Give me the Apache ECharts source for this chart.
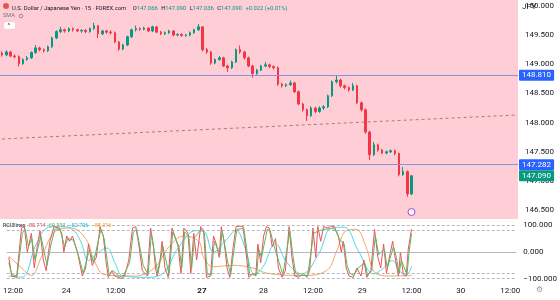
<!DOCTYPE html>
<html>
<head>
<meta charset="utf-8">
<script src="https://cdn.jsdelivr.net/npm/echarts@6/dist/echarts.min.js"></script>
<style>
  html, body { margin: 0; padding: 0; background: #fff; }
  #chart { width: 560px; height: 300px; }
</style>
</head>
<body>
<div id="chart"></div>
<script>
// hourly slots on the time axis, label text where the axis shows one
const slotCount = 124
const timeLabelAt = { 1: '12:00', 14: '24', 26: '12:00', 47: '27', 62: '28', 74: '12:00', 86: '29', 98: '12:00', 110: '30', 122: '12:00' }

// USD/JPY candles (one per hour)
const opens = [
  149.19, 149.16, 149.21, 149.14, 149.13, 149.01, 149.08, 149.11, 149.20, 149.28,
  149.25, 149.23, 149.30, 149.45, 149.56, 149.59, 149.57, 149.61, 149.59, 149.57,
  149.58, 149.56, 149.61, 149.66, 149.52, 149.57, 149.55, 149.54, 149.38, 149.26,
  149.33, 149.47, 149.59, 149.61, 149.60, 149.62, 149.57, 149.64, 149.55, 149.52,
  149.54, 149.57, 149.50, 149.51, 149.49, 149.50, 149.54, 149.59, 149.64, 149.25,
  149.21, 149.02, 149.08, 149.11, 148.97, 148.94, 149.04, 149.25, 149.21, 149.11,
  148.97, 148.84, 148.90, 148.97, 148.99, 148.96, 148.94, 148.66, 148.63, 148.65,
  148.68, 148.53, 148.32, 148.22, 148.12, 148.25, 148.19, 148.25, 148.27, 148.46,
  148.70, 148.73, 148.63, 148.60, 148.56, 148.63, 148.34, 148.22, 147.84, 147.45,
  147.62, 147.53, 147.48, 147.50, 147.52, 147.47, 147.11, 147.16, 146.78
]
const closes = [
  149.16, 149.21, 149.14, 149.13, 149.01, 149.08, 149.11, 149.20, 149.28, 149.25,
  149.23, 149.30, 149.45, 149.56, 149.59, 149.57, 149.61, 149.59, 149.57, 149.58,
  149.56, 149.61, 149.66, 149.52, 149.57, 149.55, 149.54, 149.38, 149.26, 149.33,
  149.47, 149.59, 149.61, 149.60, 149.62, 149.57, 149.64, 149.55, 149.52, 149.54,
  149.57, 149.50, 149.51, 149.49, 149.50, 149.54, 149.59, 149.64, 149.25, 149.21,
  149.02, 149.08, 149.11, 148.97, 148.94, 149.04, 149.25, 149.21, 149.11, 148.97,
  148.84, 148.90, 148.97, 148.99, 148.96, 148.94, 148.66, 148.63, 148.65, 148.68,
  148.53, 148.32, 148.22, 148.12, 148.25, 148.19, 148.25, 148.27, 148.46, 148.70,
  148.73, 148.63, 148.60, 148.56, 148.63, 148.34, 148.22, 147.84, 147.45, 147.62,
  147.53, 147.48, 147.50, 147.52, 147.47, 147.11, 147.16, 146.78, 147.09
]
const lows = [
  149.13, 149.14, 149.12, 149.10, 148.96, 148.99, 149.06, 149.09, 149.18, 149.22,
  149.20, 149.21, 149.28, 149.43, 149.53, 149.54, 149.55, 149.56, 149.55, 149.54,
  149.53, 149.54, 149.59, 149.45, 149.50, 149.52, 149.51, 149.36, 149.23, 149.24,
  149.31, 149.45, 149.56, 149.57, 149.58, 149.55, 149.55, 149.53, 149.50, 149.50,
  149.52, 149.48, 149.48, 149.47, 149.47, 149.48, 149.52, 149.57, 149.22, 149.18,
  148.99, 149.00, 149.06, 148.95, 148.87, 148.92, 149.02, 149.18, 149.08, 148.95,
  148.77, 148.82, 148.88, 148.95, 148.93, 148.91, 148.63, 148.60, 148.61, 148.63,
  148.51, 148.30, 148.19, 148.03, 148.10, 148.16, 148.17, 148.22, 148.25, 148.44,
  148.67, 148.60, 148.57, 148.53, 148.54, 148.32, 148.19, 147.81, 147.36, 147.43,
  147.50, 147.46, 147.46, 147.48, 147.44, 147.08, 147.09, 146.73, 146.76
]
const highs = [
  149.22, 149.24, 149.23, 149.17, 149.15, 149.10, 149.14, 149.22, 149.33, 149.30,
  149.27, 149.32, 149.47, 149.58, 149.64, 149.61, 149.63, 149.63, 149.61, 149.60,
  149.60, 149.63, 149.71, 149.67, 149.59, 149.59, 149.58, 149.56, 149.40, 149.35,
  149.49, 149.61, 149.66, 149.63, 149.64, 149.63, 149.66, 149.65, 149.57, 149.56,
  149.59, 149.58, 149.53, 149.53, 149.52, 149.56, 149.61, 149.69, 149.65, 149.28,
  149.23, 149.10, 149.14, 149.13, 148.99, 149.06, 149.27, 149.32, 149.23, 149.13,
  148.99, 148.92, 148.99, 149.04, 149.01, 148.98, 148.96, 148.68, 148.67, 148.72,
  148.70, 148.55, 148.34, 148.24, 148.28, 148.27, 148.28, 148.30, 148.48, 148.72,
  148.80, 148.75, 148.65, 148.62, 148.68, 148.65, 148.36, 148.24, 147.86, 147.67,
  147.64, 147.55, 147.52, 147.54, 147.54, 147.49, 147.24, 147.18, 147.10
]

// horizontal levels, last price, dashed trend line [slot, price], event marker
const levelLines = [148.81, 147.282]
const lastPrice = 147.09
const trendLine = [[0, 147.72], [123, 148.13]]
const eventMarker = [98, 146.47]

// RCI3lines, [hour slot, value]
const rciRed = [
  [0, -20], [0.7, -90], [1.9, -95], [3.1, 90], [3.8, 95], [4.5, 0], [5.5, 70], [6.2, -60], [6.9, 20], [7.6, 80],
  [8.4, -30], [9.1, -70], [10, 40], [11, 95], [12.2, 90], [12.9, 70], [13.4, 0], [14.1, 60], [14.8, 40], [15.5, 60],
  [16.7, 0], [17.9, -90], [18.7, -60], [19.4, 30], [20.3, -50], [21.3, -20], [22.2, 95], [23, 60], [23.7, -40], [24.2, -95],
  [25.1, -70], [25.8, -90], [26.6, -95], [27.5, -100], [28.2, -90], [29.2, -30], [30.1, 90], [30.9, 95], [31.6, 30], [32.5, -70],
  [33.7, -90], [34.5, 90], [35.2, 20], [35.7, -60], [36.1, -90], [36.9, -20], [37.3, 40], [38, -60], [38.8, -95], [39.7, 90],
  [40.4, 60], [41.2, 20], [41.9, -80], [42.6, 90], [43.6, 70], [44.3, -80], [45, 70], [45.7, -30], [46.7, 95], [47.4, 80],
  [48.1, -95], [49.1, -90], [49.8, 60], [50.5, 30], [51.2, -20], [51.7, 95], [52.4, 40], [53.1, -60], [53.8, -95], [54.6, 20],
  [55.3, 95], [56.2, 97], [57, 95], [57.7, 0], [58.4, -95], [59.4, -80], [60.1, -90], [60.6, 30], [61.3, -40], [62, 60],
  [62.7, 95], [63.4, 90], [64.1, 20], [64.9, 50], [65.6, -60], [66.5, -95], [67.3, -70], [68.2, 95], [68.9, -20], [69.6, -90],
  [70.6, -95], [71.6, -80], [72.5, -95], [73.2, -70], [74, 90], [74.7, -20], [75.2, 95], [75.9, 40], [76.6, 95], [77.6, 90],
  [78.3, 97], [79.2, 95], [80.2, 60], [80.9, 0], [81.4, 40], [82.1, -60], [82.8, -90], [83.8, -95], [84.7, -60], [85.7, -90],
  [86.4, -30], [87.1, -95], [88.1, -70], [89, 85], [89.8, -20], [90.5, -60], [91.2, 30], [91.9, -80], [92.6, -20], [93.4, 40],
  [94.1, -30], [94.8, -90], [95.3, 0], [96, -85], [96.7, -90], [97.2, 10], [98, 85.714]
]
const rciGreen = [
  [0, -40], [0.7, -85], [2, -90], [3.3, 70], [4, 85], [4.8, 20], [5.6, 50], [6.4, -30], [7.8, 60], [8.6, 0],
  [9.3, -50], [10.3, 30], [11.2, 85], [12.4, 88], [13.6, 20], [14.4, 50], [15.7, 45], [16.9, -10], [18.1, -80], [19.6, 10],
  [20.6, -40], [22.4, 85], [23.2, 50], [24.4, -85], [25.4, -70], [26.8, -90], [27.7, -95], [29.4, -40], [30.3, 75], [31.1, 85],
  [32.7, -50], [33.9, -85], [34.7, 70], [35.9, -50], [36.3, -80], [37.5, 20], [39, -85], [39.9, 75], [41.4, 20], [42.1, -60],
  [42.8, 75], [43.8, 60], [44.5, -60], [45.2, 55], [46.9, 85], [47.6, 70], [48.3, -85], [49.3, -85], [50, 40], [51.4, -10],
  [51.9, 80], [53.3, -40], [54, -85], [54.8, 10], [55.5, 85], [57.2, 88], [57.9, 10], [58.6, -85], [60.3, -85], [60.8, 10],
  [61.5, -20], [62.9, 85], [63.6, 80], [64.4, 30], [65.8, -40], [66.7, -85], [68.4, 80], [69.1, -10], [69.8, -80], [70.8, -88],
  [72.7, -88], [74.2, 70], [75.4, 80], [76.8, 85], [78.5, 88], [79.4, 85], [80.4, 50], [81.6, 30], [82.3, -50], [83, -80],
  [84, -88], [85, -60], [86.6, -40], [87.3, -88], [88.3, -70], [89.2, 60], [90, -10], [91.4, 10], [92.1, -60], [93.6, 20],
  [94.3, -20], [95, -80], [95.5, -30], [96.9, -85], [97.4, 0], [98, 69.333]
]
const rciCyan = [
  [0, -90], [3.1, -95], [6.7, 30], [9.6, 92], [12.7, 95], [15.5, 85], [17.5, 40], [19.4, -32], [21.5, -5], [23.9, 15],
  [25.8, -40], [27.7, -88], [33, -95], [37.1, -85], [41.4, 20], [45.5, 80], [47.4, 78], [49.8, 0], [52.6, 40], [55.3, 81],
  [57.4, 20], [59.8, -82], [61.7, -60], [64.9, 31], [67.7, -40], [71.3, -82], [75.4, -7], [78.5, 90], [81.6, 93], [85, 6],
  [88.8, -82], [91.2, -60], [93.3, -32], [95.3, -75], [96.9, -82], [98, -52.706]
]
const rciOrange = [
  [0, -15], [3.1, -60], [5.5, -88], [7.9, -20], [11.5, 80], [15.1, 90], [18.7, 50], [21, -40], [23.4, -85], [30.6, -90],
  [35.4, -60], [39, 20], [42.6, 60], [46.2, 40], [47.4, -20], [49.8, -55], [54.6, -50], [59.4, -60], [63, -80], [71.3, -88],
  [77.3, -70], [79.7, 0], [82.1, 80], [84.5, 85], [86.9, 20], [89.3, -80], [92.9, -90], [98, -88.316]
]
const rciLevels = [100, 80, -80, -100]

const chart = echarts.init(document.getElementById('chart'))

const categories = Array.from({ length: slotCount }, (_, i) => timeLabelAt[i] || '')
const candles = opens.map((o, i) => [o, closes[i], lows[i], highs[i]])

const upColor = '#089981'
const downColor = '#f23645'
const textColor = '#131722'
const fontFamily = 'Roboto, "Noto Sans", sans-serif'

const tagLabel = (bg) => ({
  show: true,
  position: 'end',
  distance: 1,
  formatter: '{b}',
  color: '#fff',
  backgroundColor: bg,
  padding: [2, 3, 1, 3],
  borderRadius: 1,
  fontSize: 8,
  fontFamily
})

chart.setOption({
  animation: false,
  backgroundColor: '#fff',
  textStyle: { fontFamily },
  graphic: [
    { type: 'circle', shape: { cx: 6, cy: 6, r: 3 }, style: { fill: '#e3574f' } },
    {
      type: 'text', left: 12, top: 2.5,
      style: {
        text: '{n|U.S. Dollar / Japanese Yen · 15 · FOREX.com}  {k|O}{v|147.066} {k|H}{v|147.090} {k|L}{v|147.036} {k|C}{v|147.090} {v|+0.022 (+0.01%)}',
        rich: {
          n: { fontSize: 5.8, fill: textColor, fontFamily },
          k: { fontSize: 5.8, fill: textColor, fontFamily },
          v: { fontSize: 5.8, fill: upColor, fontFamily }
        }
      }
    },
    { type: 'text', left: 3, top: 13, style: { text: 'SMA', fontSize: 5.6, fill: '#787b86', fontFamily } },
    { type: 'circle', shape: { cx: 21, cy: 16, r: 1.8 }, style: { fill: 'none', stroke: '#787b86', lineWidth: 0.8 } },
    { type: 'rect', shape: { x: 4, y: 22, width: 11, height: 7, r: 1.5 }, style: { fill: '#fff', stroke: '#e0e3eb', lineWidth: 0.5 } },
    { type: 'text', left: 7.5, top: 22.5, style: { text: '^', fontSize: 6, fill: '#131722', fontFamily } },
    { type: 'text', left: 522, top: 3, style: { text: 'JPY', fontSize: 8, fill: textColor, fontFamily } },
    {
      type: 'text', left: 3, top: 219.5,
      style: {
        text: '{n|RCI3lines} {r|85.714} {g|69.333} {c|\u221252.706} {o|\u221288.316}',
        rich: {
          n: { fontSize: 5.4, fill: textColor, fontFamily },
          r: { fontSize: 5.4, fill: '#f23645', fontFamily },
          g: { fontSize: 5.4, fill: '#4caf50', fontFamily },
          c: { fontSize: 5.4, fill: '#00bcd4', fontFamily },
          o: { fontSize: 5.4, fill: '#ff9800', fontFamily }
        }
      }
    },
    { type: 'text', left: 536, top: 286, style: { text: '\u2699', fontSize: 8, fill: '#9598a1' } }
  ],
  grid: [
    { left: 0, right: 42, top: 0, height: 219, show: true, backgroundColor: '#fecdd5', borderWidth: 0 },
    { left: 0, right: 42, top: 220, height: 64, show: false }
  ],
  xAxis: [
    {
      type: 'category', gridIndex: 0, data: categories, boundaryGap: true,
      axisLine: { show: false }, axisTick: { show: false }, axisLabel: { show: false }, splitLine: { show: false }
    },
    {
      type: 'category', gridIndex: 1, data: categories, boundaryGap: true,
      axisLine: { show: false }, axisTick: { show: false }, splitLine: { show: false },
      axisLabel: {
        interval: (i, v) => v !== '',
        margin: 3,
        fontSize: 8,
        color: textColor,
        fontFamily,
        formatter: (v) => (v === '27' ? '{b|27}' : v),
        rich: { b: { fontSize: 8, fontWeight: 'bold', color: textColor, fontFamily } }
      }
    },
    { type: 'value', gridIndex: 1, min: -0.5, max: slotCount - 0.5, show: false, position: 'top' }
  ],
  yAxis: [
    {
      type: 'value', gridIndex: 0, position: 'right', min: 146.35, max: 150.1, interval: 0.05,
      axisLine: { show: false }, axisTick: { show: false }, splitLine: { show: false },
      axisLabel: {
        margin: 7, fontSize: 8, color: textColor, fontFamily,
        formatter: (v) => (Math.abs(v * 2 - Math.round(v * 2)) < 1e-6 ? v.toFixed(3) : '')
      }
    },
    {
      type: 'value', gridIndex: 1, position: 'right', min: -120, max: 120, interval: 20,
      axisLine: { show: false }, axisTick: { show: false }, splitLine: { show: false },
      axisLabel: {
        margin: 7, fontSize: 8, color: textColor, fontFamily,
        formatter: (v) => (v === 100 || v === 0 || v === -100 ? (v < 0 ? '\u2212' : '') + Math.abs(v).toFixed(3) : '')
      }
    }
  ],
  series: [
    {
      type: 'candlestick',
      xAxisIndex: 0,
      yAxisIndex: 0,
      data: candles,
      barWidth: 2,
      itemStyle: {
        color: upColor, color0: downColor,
        borderColor: upColor, borderColor0: downColor, borderWidth: 1
      },
      markLine: {
        silent: true,
        symbol: ['none', 'none'],
        data: [
          ...levelLines.map((v) => ({
            name: v.toFixed(3),
            yAxis: v,
            lineStyle: { color: '#8a8fe6', width: 1, type: 'solid' },
            label: tagLabel('#2962ff')
          })),
          {
            name: lastPrice.toFixed(3),
            yAxis: lastPrice,
            lineStyle: { color: 'transparent', width: 0 },
            label: tagLabel(upColor)
          },
          [
            { coord: trendLine[0], lineStyle: { color: '#b4786e', width: 1, type: [3, 3] }, label: { show: false } },
            { coord: trendLine[1] }
          ]
        ]
      },
      markPoint: {
        silent: true,
        symbol: 'circle',
        symbolSize: 7,
        itemStyle: { color: '#fff', borderColor: '#9c4fd6', borderWidth: 1 },
        label: { show: true, formatter: '\u00b7', color: '#9c4fd6', fontSize: 8, offset: [0, -1] },
        data: [{ coord: eventMarker }]
      }
    },
    {
      type: 'line', xAxisIndex: 2, yAxisIndex: 1, data: rciOrange, smooth: 0.4,
      symbol: 'none', lineStyle: { color: '#f7a56a', width: 1 },
      markLine: {
        silent: true, symbol: ['none', 'none'], label: { show: false },
        data: [
          ...rciLevels.map((v) => ({ yAxis: v, lineStyle: { color: '#a3a6af', width: 0.8, type: [3, 2] } })),
          { yAxis: 0, lineStyle: { color: '#a3a6af', width: 0.8, type: 'solid' } }
        ]
      }
    },
    { type: 'line', xAxisIndex: 2, yAxisIndex: 1, data: rciCyan, smooth: 0.4, symbol: 'none', lineStyle: { color: '#4dd9e6', width: 1 } },
    { type: 'line', xAxisIndex: 2, yAxisIndex: 1, data: rciRed, symbol: 'none', lineStyle: { color: '#f0505a', width: 1 } },
    { type: 'line', xAxisIndex: 2, yAxisIndex: 1, data: rciGreen, symbol: 'none', lineStyle: { color: '#5cb85c', width: 1 } }
  ]
})

window.addEventListener('resize', () => chart.resize())
</script>
</body>
</html>
